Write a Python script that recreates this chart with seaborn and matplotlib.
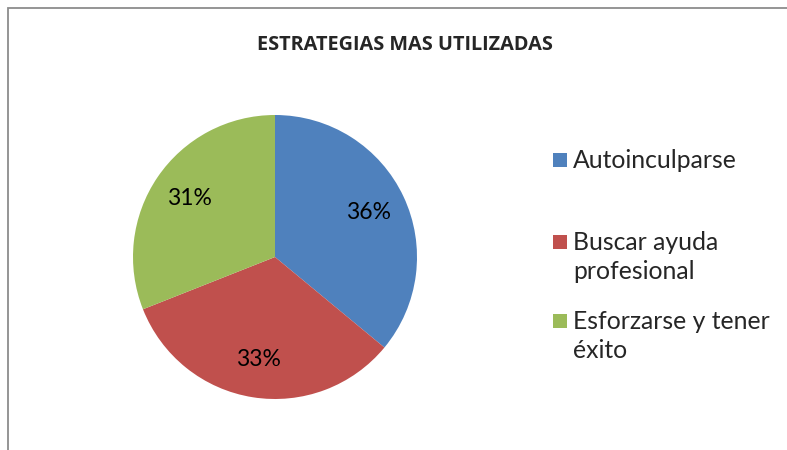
import matplotlib.pyplot as plt
import seaborn as sns
from matplotlib.patches import Rectangle

# Datos del gráfico
categorias = ["Autoinculparse", "Buscar ayuda\nprofesional", "Esforzarse y tener\néxito"]
porcentajes = [36, 33, 31]
colores = ["#4F81BD", "#C0504D", "#9BBB59"]
titulo = "ESTRATEGIAS MAS UTILIZADAS"

sns.set_style("white")
plt.rcParams['font.family'] = ['Lato', 'DejaVu Sans']

fig = plt.figure(figsize=(7.87, 4.5), dpi=100)

# Borde del área del gráfico (estilo Excel)
fig.patches.append(Rectangle((8 / 787, -0.1), 1.2, (450 - 8) / 450 + 0.1,
                             transform=fig.transFigure, fill=False,
                             edgecolor="#8c8c8c", linewidth=1.3))

ax = fig.add_axes([133 / 787, 51 / 450, 284 / 787, 284 / 450])
wedges, textos, autotextos = ax.pie(
    porcentajes, colors=colores, startangle=90, counterclock=False,
    autopct=lambda p: f"{p:.0f}%", pctdistance=0.73,
    wedgeprops={"linewidth": 0},
    textprops={"fontsize": 16.5, "color": "black"})
ax.set_xlim(-1, 1)
ax.set_ylim(-1, 1)
ax.set_aspect("equal")

fig.text(405 / 787, 1 - 45 / 450, titulo, ha="center", va="center",
         fontsize=14.3, fontweight="bold", family=["Open Sans", "DejaVu Sans"])

# Leyenda dibujada a mano (posiciones de cada entrada como en Excel)
y_leyenda = [160, 257, 336]
for cat, col, yc in zip(categorias, colores, y_leyenda):
    n = cat.count("\n")
    y_cuadro = yc - n * 15
    fig.patches.append(Rectangle((553 / 787, 1 - (y_cuadro + 7) / 450), 14 / 787, 14 / 450,
                                 transform=fig.transFigure, facecolor=col,
                                 edgecolor="none"))
    fig.text(573 / 787, 1 - yc / 450, cat, ha="left", va="center",
             fontsize=17.8, linespacing=1.3)

plt.savefig("out.png", dpi=100)
